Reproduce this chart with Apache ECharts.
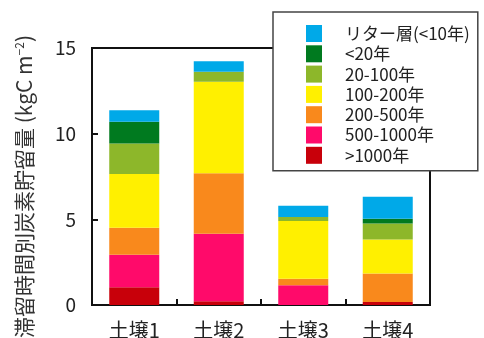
<!DOCTYPE html>
<html>
<head>
<meta charset="utf-8">
<script src="https://cdn.jsdelivr.net/npm/echarts@6/dist/echarts.min.js"></script>
<style>
  html, body { margin: 0; padding: 0; background: #fff; }
  #chart { width: 484px; height: 338px; }
</style>
</head>
<body>
<div id="chart"></div>
<script>
// Soil carbon stocks split by residence time class (kgC m^-2)
const categories = ['土壌1', '土壌2', '土壌3', '土壌4'];

// Stack order: bottom (oldest) to top (litter layer)
const over1000   = [1.04, 0.22, 0.00, 0.18];
const y500_1000  = [1.90, 3.94, 1.16, 0.00];
const y200_500   = [1.57, 3.53, 0.37, 1.66];
const y100_200   = [3.14, 5.34, 3.37, 1.99];
const y20_100    = [1.78, 0.58, 0.24, 0.93];
const under20    = [1.26, 0.00, 0.00, 0.28];
const litter     = [0.68, 0.61, 0.66, 1.28];

const seriesNames = ['>1000年', '500-1000年', '200-500年', '100-200年', '20-100年', '<20年', 'リター層(<10年)'];
const seriesData  = [over1000, y500_1000, y200_500, y100_200, y20_100, under20, litter];
const seriesColors = ['#c8000a', '#ff0a6a', '#f9891c', '#fff000', '#8db72a', '#007a1f', '#00a9e8'];

const yTicks = [0, 5, 10, 15];

const FONT = '"Noto Sans CJK JP", "Noto Sans", sans-serif';

const chart = echarts.init(document.getElementById('chart'), null, { renderer: 'canvas' });

chart.setOption({
  animation: false,
  backgroundColor: '#ffffff',
  textStyle: { fontFamily: FONT },
  grid: {
    left: 92, right: 54, top: 48, bottom: 33,
    outerBoundsMode: 'none',
    show: true, borderColor: '#111', borderWidth: 2, backgroundColor: 'transparent'
  },
  legend: {
    left: 273, top: 12,
    orient: 'vertical',
    data: seriesNames.slice().reverse(),
    itemWidth: 16, itemHeight: 17, itemGap: 3.3,
    padding: [13, 8, 7, 33],
    borderColor: '#444', borderWidth: 1.5,
    backgroundColor: '#fff',
    textStyle: { fontSize: 17, color: '#222', fontFamily: FONT, padding: [0, 0, 0, 18] },
    selectedMode: false,
    icon: 'rect'
  },
  xAxis: {
    type: 'category',
    data: categories,
    axisLine: { lineStyle: { color: '#111', width: 2 } },
    axisTick: { show: true, inside: true, length: 6, alignWithLabel: false, lineStyle: { color: '#111', width: 2 } },
    axisLabel: { fontSize: 20, color: '#222', margin: 15, fontFamily: FONT }
  },
  yAxis: {
    type: 'value',
    min: yTicks[0], max: yTicks[yTicks.length - 1], interval: 5,
    axisLine: { show: true, lineStyle: { color: '#111', width: 2 } },
    axisTick: { show: true, inside: true, length: 6, lineStyle: { color: '#111', width: 2 } },
    splitLine: { show: false },
    axisLabel: { fontSize: 19, color: '#222', margin: 16, fontFamily: FONT },
    name: '{a|滞留時間別炭素貯留量 (kgC m}{s|−2}{a|)}',
    nameLocation: 'middle',
    nameGap: 57,
    nameRotate: 90,
    nameTextStyle: {
      padding: [0, 20, 0, 0],
      rich: {
        a: { fontSize: 21, color: '#333', fontFamily: FONT },
        s: { fontSize: 12, color: '#333', fontFamily: FONT, padding: [0, 0, 10, 0] }
      }
    }
  },
  series: seriesNames.map((name, i) => ({
    name: name,
    type: 'bar',
    stack: 'total',
    barWidth: 50,
    data: seriesData[i],
    itemStyle: { color: seriesColors[i] }
  }))
});
</script>
</body>
</html>
